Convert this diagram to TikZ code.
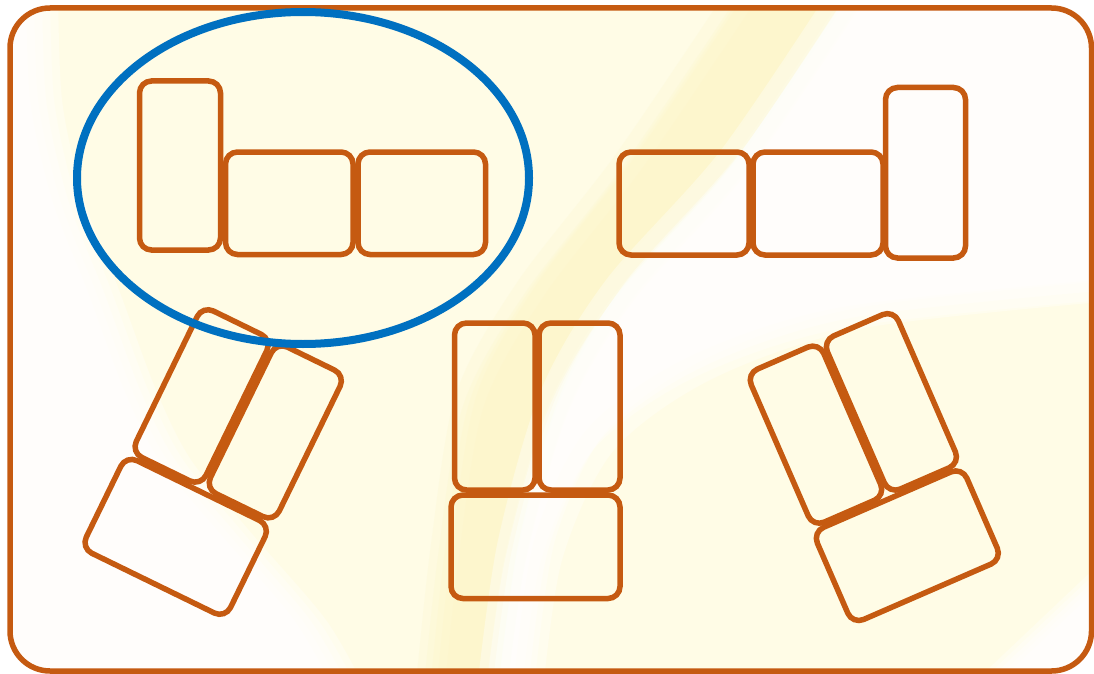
\documentclass[tikz,border=0pt]{standalone}
\definecolor{org}{HTML}{C55A11}
\definecolor{bl}{HTML}{0070C0}
\definecolor{cream}{HTML}{FFFCE6}
\definecolor{yel}{HTML}{FDF6C4}
\begin{document}
\begin{tikzpicture}[x=1pt,y=-1pt,
  box/.style={draw=org,line width=5.5pt,rounded corners=12pt},
  frame/.style={draw=org,line width=5.5pt,rounded corners=40pt},
  ring/.style={draw=bl,line width=8pt}]
\useasboundingbox (0,0) rectangle (1094,674);
% ---------- background light ----------
\begin{scope}
\clip[rounded corners=40pt] (10,8) rectangle (1091.5,671);
\fill[cream] (0,0) rectangle (1094,674);
% yellow ray
\foreach \a/\b in {-14/-6,-7/6,0/0,7/-6,14/6}{
  \fill[yel,opacity=0.2,shift={(\a,\b)}] (430,690) -- plot[smooth] coordinates {(430,690) (445,550) (470,400) (530,290) (630,160) (745,-10)} -- plot[smooth] coordinates {(850,-10) (735,160) (620,290) (555,400) (512,550) (492,690)} -- cycle;
}
% white ray (top right)
\foreach \a/\b in {-14/-10,-7/10,0/0,7/-10,14/10}{
  \fill[white,opacity=0.35,shift={(\a,\b)}] plot[smooth] coordinates {(492,690) (512,550) (555,400) (620,290) (735,160) (850,-10)} -- (1110,-10) -- (1110,290) -- plot[smooth] coordinates {(1110,290) (850,318) (700,368) (600,440) (548,550) (528,690)} -- cycle;
}
% left white wedge
\foreach \a/\b in {-16/0,-8/0,0/0,8/0,16/0}{
  \fill[white,opacity=0.35,shift={(\a,\b)}] (-20,-20) -- (42,-20) -- plot[smooth] coordinates {(42,-20) (46,100) (68,200) (103,290) (140,390) (175,460) (237,535) (310,620) (350,690)} -- (-20,690) -- cycle;
}
% bottom right white corner
\foreach \a/\b in {-12/0,-6/0,0/0,6/0,12/0}{
  \fill[white,opacity=0.35,shift={(\a,\b)}] (978,690) -- (1110,565) -- (1110,690) -- cycle;
}
\end{scope}
% ---------- frame ----------
\draw[frame] (10,8) rectangle (1091.5,671);
% ---------- top-left group ----------
\draw[box] (139.5,81) rectangle (220.5,250);
\draw[box] (225.5,152) rectangle (353,254.5);
\draw[box] (358,152) rectangle (485.5,254.5);
% ---------- top-right group ----------
\draw[box] (619,152) rectangle (749,255);
\draw[box] (753,152) rectangle (883,255);
\draw[box] (885.5,87.5) rectangle (965.5,258);
% ---------- middle group ----------
\draw[box] (454.5,323) rectangle (535,490);
\draw[box] (539,323) rectangle (620,490);
\draw[box] (451,495) rectangle (620,598.5);
% ---------- bottom-left group (rotated clockwise) ----------
\begin{scope}[rotate=-26]
\draw[box] (316,186) rectangle (393.5,349);
\draw[box] (398.5,186) rectangle (475,349);
\draw[box] (313,354) rectangle (473.5,457);
\end{scope}
% ---------- bottom-right group (rotated counter-clockwise) ----------
\begin{scope}[rotate=23.5]
\draw[box] (535.5,640.5) rectangle (614.5,807.5);
\draw[box] (618.5,640.5) rectangle (696,807.5);
\draw[box] (533,812) rectangle (696,912.5);
\end{scope}
% ---------- blue ellipse ----------
\draw[ring] (303,178) ellipse [x radius=226pt, y radius=166pt];
\end{tikzpicture}
\end{document}
